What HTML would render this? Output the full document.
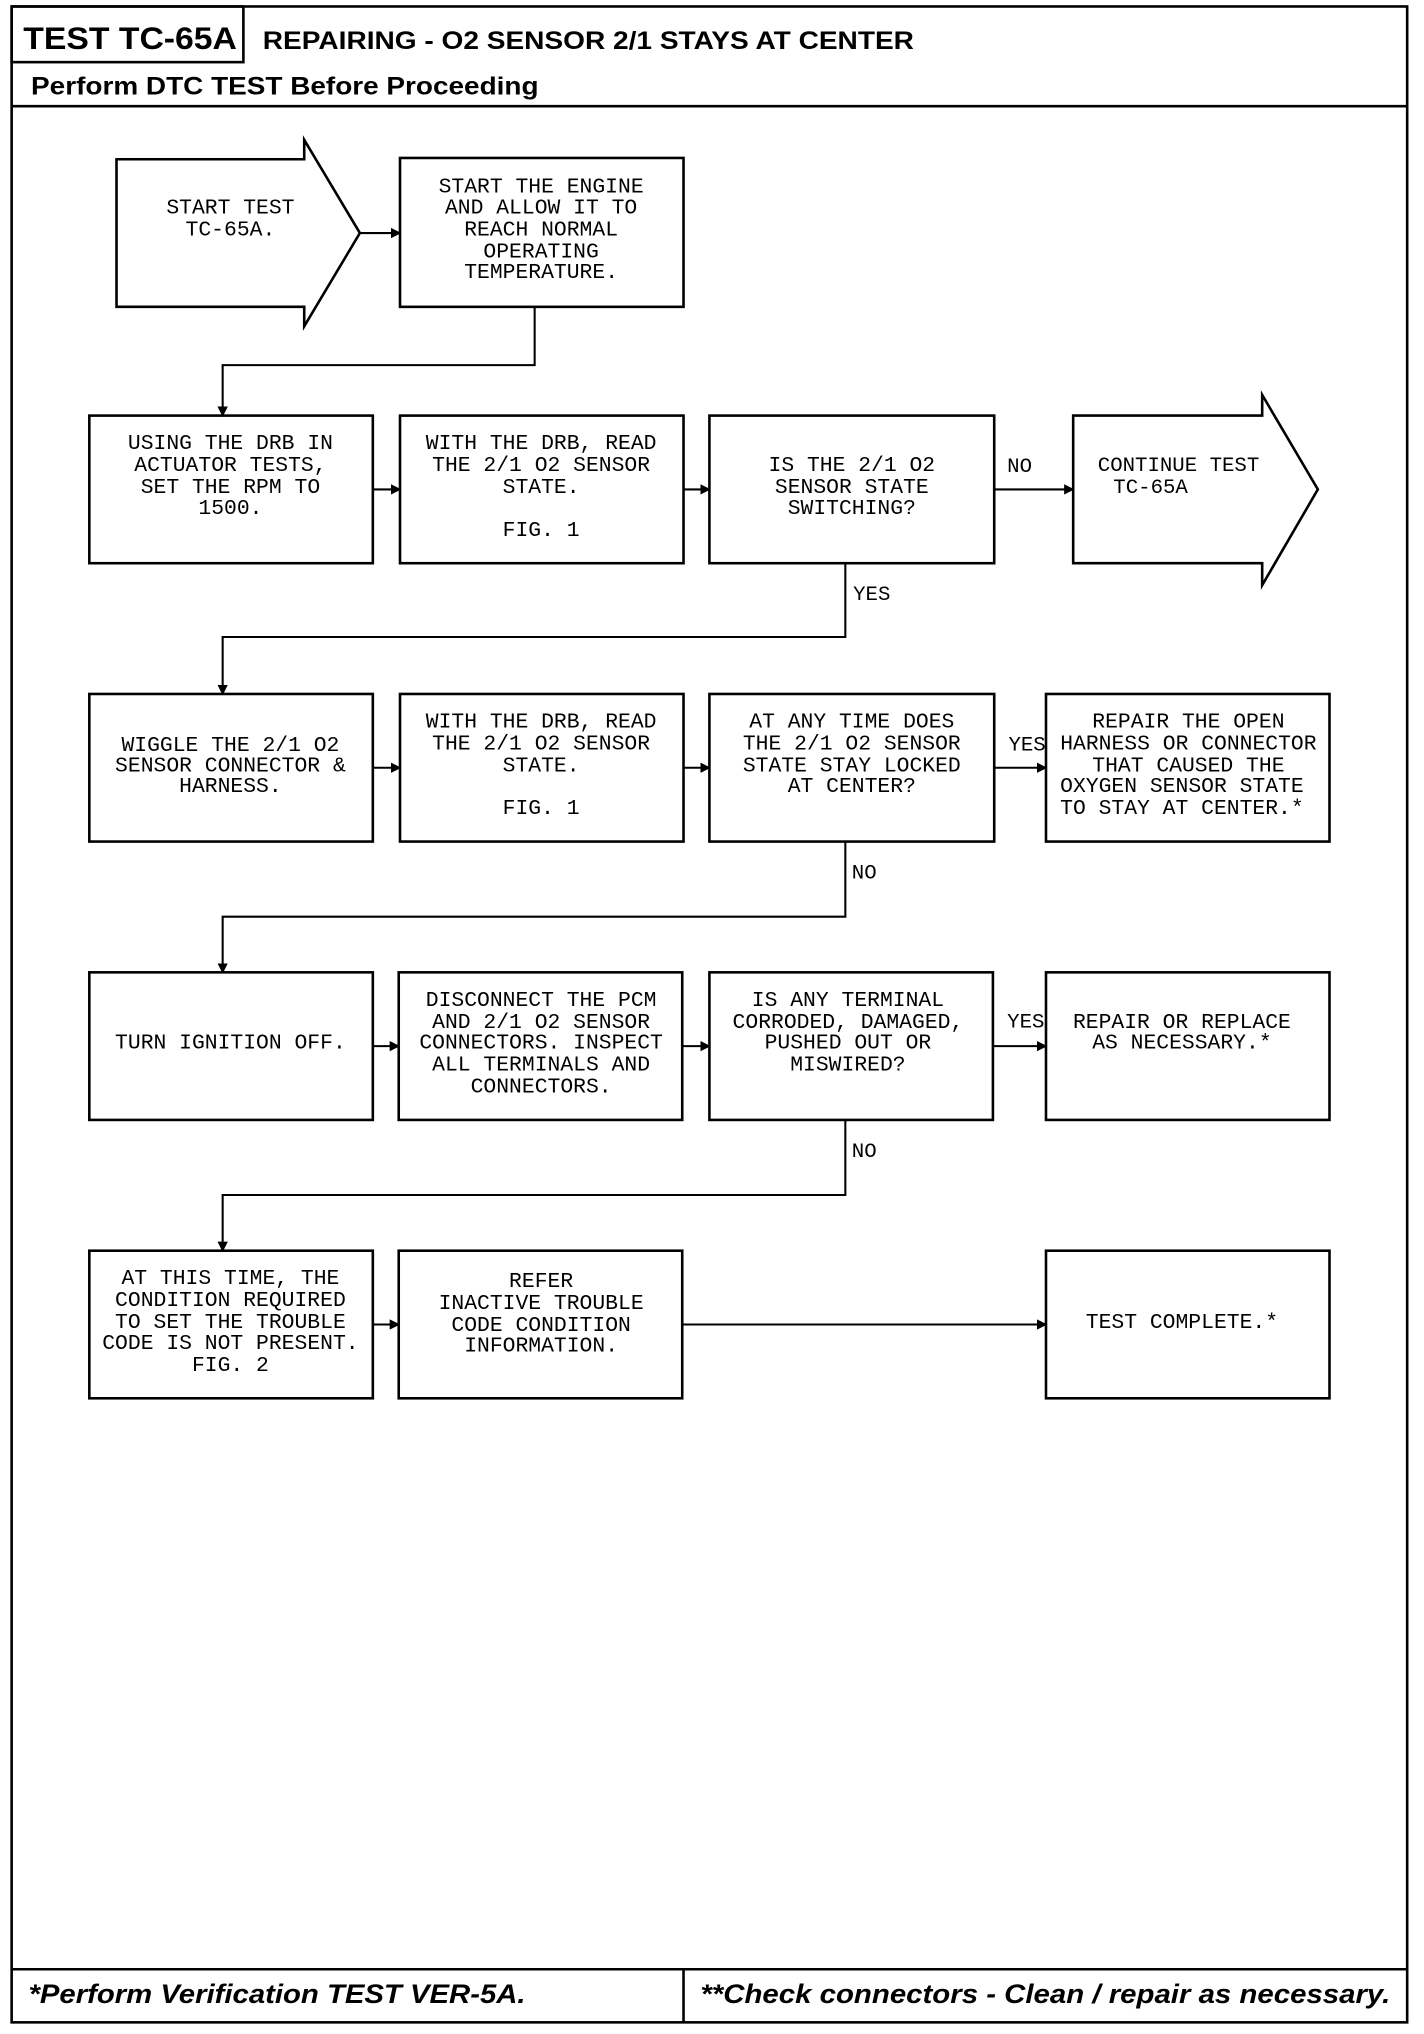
<!DOCTYPE html>
<html><head><meta charset="utf-8"><style>
html,body{margin:0;padding:0;background:#fff}
svg{display:block}
.t{font-family:"Liberation Mono",monospace;font-size:16.5px;fill:#000;text-anchor:middle;dominant-baseline:central}
.l{font-family:"Liberation Mono",monospace;font-size:16px;fill:#000;dominant-baseline:central}
.h{font-family:"Liberation Sans",sans-serif;font-weight:bold;fill:#000}
.f{font-family:"Liberation Sans",sans-serif;font-weight:bold;font-style:italic;fill:#000;font-size:21px}
</style></head><body>
<svg width="1424" height="2034" viewBox="0 0 1100 1571" preserveAspectRatio="none" xmlns="http://www.w3.org/2000/svg">
<defs><marker id="a" markerWidth="8" markerHeight="8" refX="7" refY="4" orient="auto" markerUnits="userSpaceOnUse"><path d="M0,0 L8,4 L0,8 z" fill="#000"/></marker></defs>
<g fill="none" stroke="#000" stroke-width="2">
<rect x="9" y="5" width="1078" height="1557"/>
<rect x="9" y="5" width="179" height="43"/>
<line x1="9" y1="82" x2="1087" y2="82"/>
<line x1="9" y1="1521" x2="1087" y2="1521"/>
<line x1="528" y1="1521" x2="528" y2="1562"/>
<path d="M90,123 H235 V108 L278,180 L235,252 V237 H90 Z"/>
<rect x="309" y="122" width="219" height="115"/>
<rect x="69" y="321" width="219" height="114"/>
<rect x="309" y="321" width="219" height="114"/>
<rect x="548" y="321" width="220" height="114"/>
<path d="M829,321 H975 V305 L1018,378 L975,452 V435 H829 Z"/>
<rect x="69" y="536" width="219" height="114"/>
<rect x="309" y="536" width="219" height="114"/>
<rect x="548" y="536" width="220" height="114"/>
<rect x="808" y="536" width="219" height="114"/>
<rect x="69" y="751" width="219" height="114"/>
<rect x="308" y="751" width="219" height="114"/>
<rect x="548" y="751" width="219" height="114"/>
<rect x="808" y="751" width="219" height="114"/>
<rect x="69" y="966" width="219" height="114"/>
<rect x="308" y="966" width="219" height="114"/>
<rect x="808" y="966" width="219" height="114"/>
</g>
<g fill="none" stroke="#000" stroke-width="1.6" marker-end="url(#a)">
<line x1="278" y1="180" x2="309" y2="180"/>
<path d="M413,237 V282 H172 V321"/>
<line x1="288" y1="378" x2="309" y2="378"/>
<line x1="528" y1="378" x2="548" y2="378"/>
<line x1="768" y1="378" x2="829" y2="378"/>
<path d="M653,435 V492 H172 V536"/>
<line x1="288" y1="593" x2="309" y2="593"/>
<line x1="528" y1="593" x2="548" y2="593"/>
<line x1="768" y1="593" x2="808" y2="593"/>
<path d="M653,650 V708 H172 V751"/>
<line x1="288" y1="808" x2="308" y2="808"/>
<line x1="527" y1="808" x2="548" y2="808"/>
<line x1="767" y1="808" x2="808" y2="808"/>
<path d="M653,865 V923 H172 V966"/>
<line x1="288" y1="1023" x2="308" y2="1023"/>
<line x1="527" y1="1023" x2="808" y2="1023"/>
</g>
<text class="h" x="18" y="38" font-size="24" textLength="165" lengthAdjust="spacingAndGlyphs">TEST TC-65A</text>
<text class="h" x="203" y="38" font-size="19" textLength="503" lengthAdjust="spacingAndGlyphs">REPAIRING - O2 SENSOR 2/1 STAYS AT CENTER</text>
<text class="h" x="24" y="73" font-size="19" textLength="392" lengthAdjust="spacingAndGlyphs">Perform DTC TEST Before Proceeding</text>
<text class="f" x="22" y="1547" textLength="384" lengthAdjust="spacingAndGlyphs">*Perform Verification TEST VER-5A.</text>
<text class="f" x="541" y="1547" textLength="533" lengthAdjust="spacingAndGlyphs">**Check connectors - Clean / repair as necessary.</text>
<text class="t"><tspan x="178" y="161">START TEST</tspan><tspan x="178" y="178">TC-65A.</tspan></text>
<text class="t"><tspan x="418" y="145">START THE ENGINE</tspan><tspan x="418" y="161">AND ALLOW IT TO</tspan><tspan x="418" y="178">REACH NORMAL</tspan><tspan x="418" y="195">OPERATING</tspan><tspan x="418" y="211">TEMPERATURE.</tspan></text>
<text class="t"><tspan x="178" y="343">USING THE DRB IN</tspan><tspan x="178" y="360">ACTUATOR TESTS,</tspan><tspan x="178" y="377">SET THE RPM TO</tspan><tspan x="178" y="393">1500.</tspan></text>
<text class="t"><tspan x="418" y="343">WITH THE DRB, READ</tspan><tspan x="418" y="360">THE 2/1 O2 SENSOR</tspan><tspan x="418" y="377">STATE.</tspan><tspan x="418" y="410">FIG. 1</tspan></text>
<text class="t"><tspan x="658" y="360">IS THE 2/1 O2</tspan><tspan x="658" y="377">SENSOR STATE</tspan><tspan x="658" y="393">SWITCHING?</tspan></text>
<text class="l"><tspan x="848" y="360">CONTINUE TEST</tspan><tspan x="860" y="377">TC-65A</tspan></text>
<text class="l" x="778" y="361">NO</text>
<text class="l" x="659" y="460">YES</text>
<text class="t"><tspan x="178" y="576">WIGGLE THE 2/1 O2</tspan><tspan x="178" y="592">SENSOR CONNECTOR &amp;</tspan><tspan x="178" y="608">HARNESS.</tspan></text>
<text class="t"><tspan x="418" y="558">WITH THE DRB, READ</tspan><tspan x="418" y="575">THE 2/1 O2 SENSOR</tspan><tspan x="418" y="592">STATE.</tspan><tspan x="418" y="625">FIG. 1</tspan></text>
<text class="t"><tspan x="658" y="558">AT ANY TIME DOES</tspan><tspan x="658" y="575">THE 2/1 O2 SENSOR</tspan><tspan x="658" y="592">STATE STAY LOCKED</tspan><tspan x="658" y="608">AT CENTER?</tspan></text>
<text class="t"><tspan x="918" y="558">REPAIR THE OPEN</tspan><tspan x="918" y="575">HARNESS OR CONNECTOR</tspan><tspan x="918" y="592">THAT CAUSED THE</tspan><tspan x="913" y="608">OXYGEN SENSOR STATE</tspan><tspan x="913" y="625">TO STAY AT CENTER.*</tspan></text>
<text class="l" x="779" y="576">YES</text>
<text class="l" x="658" y="675">NO</text>
<text class="t" x="178" y="806">TURN IGNITION OFF.</text>
<text class="t"><tspan x="418" y="773">DISCONNECT THE PCM</tspan><tspan x="418" y="790">AND 2/1 O2 SENSOR</tspan><tspan x="418" y="806">CONNECTORS. INSPECT</tspan><tspan x="418" y="823">ALL TERMINALS AND</tspan><tspan x="418" y="840">CONNECTORS.</tspan></text>
<text class="t"><tspan x="655" y="773">IS ANY TERMINAL</tspan><tspan x="655" y="790">CORRODED, DAMAGED,</tspan><tspan x="655" y="806">PUSHED OUT OR</tspan><tspan x="655" y="823">MISWIRED?</tspan></text>
<text class="t"><tspan x="913" y="790">REPAIR OR REPLACE</tspan><tspan x="913" y="806">AS NECESSARY.*</tspan></text>
<text class="l" x="778" y="790">YES</text>
<text class="l" x="658" y="890">NO</text>
<text class="t"><tspan x="178" y="988">AT THIS TIME, THE</tspan><tspan x="178" y="1005">CONDITION REQUIRED</tspan><tspan x="178" y="1022">TO SET THE TROUBLE</tspan><tspan x="178" y="1038">CODE IS NOT PRESENT.</tspan><tspan x="178" y="1055">FIG. 2</tspan></text>
<text class="t"><tspan x="418" y="990">REFER</tspan><tspan x="418" y="1007">INACTIVE TROUBLE</tspan><tspan x="418" y="1024">CODE CONDITION</tspan><tspan x="418" y="1040">INFORMATION.</tspan></text>
<text class="t" x="913" y="1022">TEST COMPLETE.*</text>
</svg>
</body></html>
